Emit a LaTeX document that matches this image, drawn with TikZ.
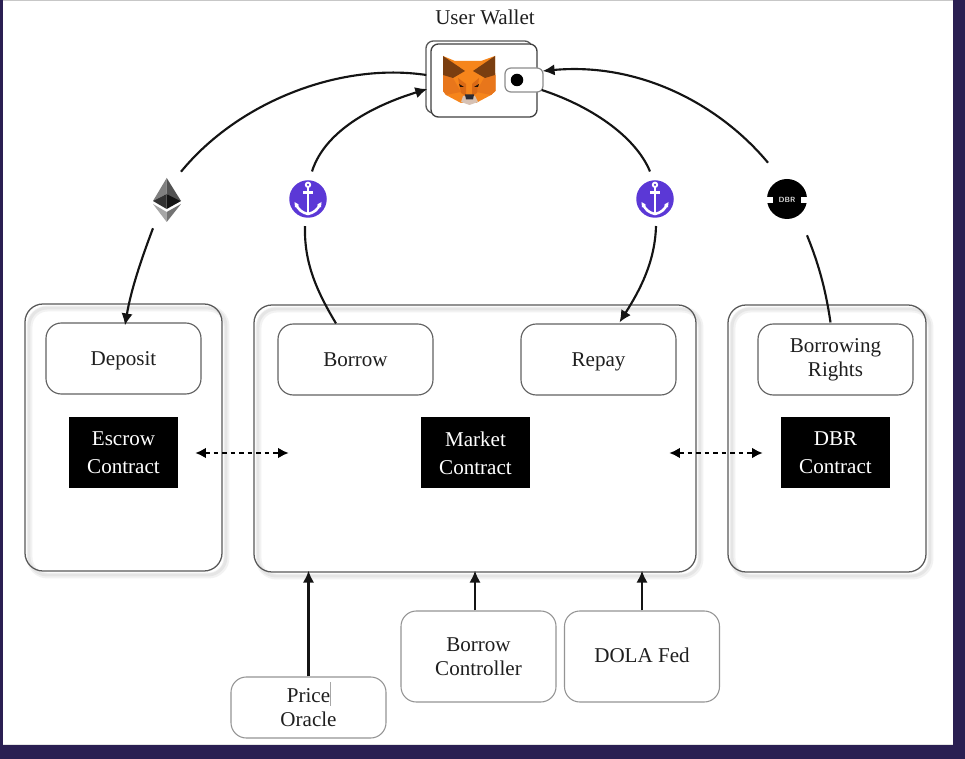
\documentclass[tikz,border=0pt]{standalone}
\usepackage{fontspec}
\setmainfont{Liberation Serif}
\usetikzlibrary{arrows.meta,calc,shadows}
\definecolor{frame}{HTML}{2A1F52}
\definecolor{anchorviolet}{HTML}{5B38D6}
\definecolor{foxface}{HTML}{F6851B}
\definecolor{foxcheek}{HTML}{E8761B}
\definecolor{foxfacet}{HTML}{DA6A16}
\definecolor{foxear}{HTML}{7A3E10}
\definecolor{foxmuzzle}{HTML}{D7C1B3}
\definecolor{foxnose}{HTML}{2B2B33}
\newcommand{\lowered}[2][1.4pt]{\raisebox{-#1}{#2}}
\tikzset{
  sz/.style 2 args={minimum width=#1*0.75pt, minimum height=#2*0.75pt, inner sep=0pt},
  txt/.style={font=\fontsize{15.8pt}{18pt}\selectfont, text=black!88, align=center},
  outer/.style={draw=black!65, line width=0.95pt, rounded corners=13.5pt,
    general shadow={shadow xshift=3.4pt, shadow yshift=-3.4pt, draw=black!5, line width=4.4pt, fill=none},
    general shadow={shadow xshift=3pt, shadow yshift=-3pt, draw=black!10, line width=2.2pt, fill=none}},
  inner box/.style={draw=black!62, line width=0.85pt, rounded corners=11.5pt, txt},
  low box/.style={draw=black!42, line width=0.8pt, rounded corners=11.5pt, txt},
  blackbox/.style={fill=black, txt, text=white, font=\fontsize{15.8pt}{21pt}\selectfont},
  conn/.style={line width=1.6pt, black!92},
  tipped/.style={conn, -{Latex[length=9pt,width=8.5pt]}},
  dbl/.style={line width=1.4pt, black, dash pattern=on 3.4pt off 3pt,
     {Latex[length=8pt,width=8pt]}-{Latex[length=8pt,width=8pt]}},
  anchoricon/.pic={
    \draw[white,line width=1.4pt] (0,-14.2) circle (2.2);
    \draw[white,line width=2pt] (0,-11.5) -- (0,15);
    \draw[white,line width=1.6pt] (-5,-6.5) -- (5,-6.5);
    \draw[white,line width=1.9pt] (-12,5) .. controls (-10,11) and (-5,14) .. (0,15)
        .. controls (5,14) and (10,11) .. (12,5);
    \fill[white] (-13.5,3) -- (-9,6) -- (-13,8.5) -- cycle;
    \fill[white] (13.5,3) -- (9,6) -- (13,8.5) -- cycle;
  }
}
\begin{document}
\begin{tikzpicture}[x=0.75pt,y=-0.75pt]
\useasboundingbox (0,0) rectangle (965,759);
% surroundings
\fill[frame] (0,0) rectangle (965,759);
\fill[white] (3,0) rectangle (953,745);
\fill[black!22] (3,0) rectangle (953,1.5);
\fill[black!10] (3,743.5) rectangle (953,745);

% title
\node[txt] (title) at (485,17) {User Wallet};

% containers
\node[outer, sz={197}{267}] (escrow) at (123.5,437.5) {};
\node[outer, sz={442}{267}] (market) at (475,438.5) {};
\node[outer, sz={198}{267}] (dbr) at (827,438.5) {};

% action boxes
\node[inner box, sz={155}{71}] (deposit) at (123.5,358.5) {\strut\lowered{Deposit}};
\node[inner box, sz={155}{71}] (borrow) at (355.5,359.5) {\strut\lowered{Borrow}};
\node[inner box, sz={155}{71}] (repay) at (598.5,359.5) {\strut\lowered{Repay}};
\node[inner box, sz={155}{71}] (rights) at (835.5,359.5) {\lowered{Borrowing}\\\lowered{Rights}};

% contract labels
\node[blackbox, sz={109}{71}] (escrowC) at (123.5,453) {\lowered[0.7pt]{Escrow}\\\lowered[0.7pt]{Contract}};
\node[blackbox, sz={109}{71}] (marketC) at (475.5,453) {\lowered[0.7pt]{Market}\\\lowered[0.7pt]{Contract}};
\node[blackbox, sz={109}{71}] (dbrC) at (835.5,453) {\lowered[0.7pt]{DBR}\\\lowered[0.7pt]{Contract}};

% lower boxes
\node[low box, sz={155}{61}] (oracle) at (308.5,707.5) {Price\\Oracle};
\node[low box, sz={155}{91}] (controller) at (478.5,656.5) {Borrow\\Controller};
\node[low box, sz={155}{91}] (fed) at (642,656.5) {\strut\lowered[0.8pt]{DOLA Fed}};
\draw[black!35,line width=0.5pt] (330.5,682) -- (330.5,706);

% wallet
\node[draw=black!65,line width=1pt,fill=white,rounded corners=5.5pt,sz={106}{72}] (walletback) at (479,77) {};
\node[draw=black!75,line width=1pt,fill=white,rounded corners=5.5pt,sz={106}{73}] (wallet) at (484,80.5) {};
\node[draw=black!45,line width=0.9pt,fill=white,rounded corners=4.5pt,sz={38}{24}] (clasp) at (524,80) {};
\node[fill=black,circle,sz={12.5}{12.5}] (dot) at (517,80) {};

% fox
\fill[foxface] (443,56) -- (455,61) -- (481,61) -- (495,56) -- (495.5,91) -- (491,95) -- (476,103) -- (461,103) -- (446,95) -- (443,91) -- cycle;
\fill[foxcheek] (443,75) -- (453,78) -- (461,92) -- (446,95) -- (443,91) -- cycle;
\fill[foxcheek] (495.5,75) -- (484,78) -- (476,92) -- (491,95) -- (495.5,91) -- cycle;
\fill[foxfacet] (458,78) -- (466,84) -- (466,96) -- (461,93) -- cycle;
\fill[foxfacet] (479,78) -- (472,84) -- (472,96) -- (477,93) -- cycle;
\fill[foxear] (443,56) -- (465,71) -- (453,78) -- (443,75) -- cycle;
\fill[foxear] (495,56) -- (473,71) -- (485,78) -- (495,75) -- cycle;
\fill[black!70!foxear] (459,84) -- (464,87) -- (460,87) -- cycle;
\fill[black!70!foxear] (479,84) -- (474,87) -- (478,87) -- cycle;
\fill[foxmuzzle] (463,96) -- (475,96) -- (478,102) -- (469.5,105) -- (461,102) -- cycle;
\fill[foxnose] (465,94.5) -- (474,94.5) -- (473,99.5) -- (466,99.5) -- cycle;

% icons
\node[sz={30}{46}] (eth) at (167,200) {};
\fill[black!50] (166.7,178) -- (153,201) -- (166.7,194) -- cycle;
\fill[black!68] (166.7,178) -- (181,201) -- (166.7,194) -- cycle;
\fill[black!80] (153,201) -- (166.7,194) -- (166.7,209) -- cycle;
\fill[black!92] (181,201) -- (166.7,194) -- (166.7,209) -- cycle;
\fill[black!35] (153,204) -- (166.7,212) -- (166.7,222) -- cycle;
\fill[black!55] (181,204) -- (166.7,212) -- (166.7,222) -- cycle;

\node[circle,fill=anchorviolet,sz={37.5}{37.5}] (anchorA) at (308,199) {};
\pic at (308,199) {anchoricon};
\node[circle,fill=anchorviolet,sz={37.5}{37.5}] (anchorB) at (655,199) {};
\pic at (655,199) {anchoricon};
\node[circle,fill=black,sz={40}{40}] (dbrcoin) at (787,199) {};
\fill[white] (766,197) rectangle (773,203);
\fill[white] (801,197) rectangle (808,203);
\node[text=white!88!black,font=\sffamily\bfseries\fontsize{5.6pt}{6pt}\selectfont,inner sep=0pt] (dbrtext) at (787,200) {DBR};

% connectors
\draw[conn] ($(eth.north)+(14,-5)$) .. controls (238,102) and (340,62) .. ($(walletback.west)+(1,-2)$);
\draw[tipped] ($(eth.south)+(-14,5)$) .. controls (141,260) and (131,290) .. ($(deposit.north)+(1.5,3)$);
\draw[conn] ($(borrow.north)+(-19.5,0)$) .. controls (316,290) and (304,262) .. ($(anchorA.south)+(-3,8)$);
\draw[tipped] ($(anchorA.north)+(4,-8.5)$) .. controls (325,130) and (375,105) .. ($(walletback.west)+(2,12)$);
\draw[conn] ($(wallet.east)+(4,9.5)$) .. controls (588,105) and (635,135) .. ($(anchorB.north)+(-5,-8.5)$);
\draw[tipped] ($(anchorB.south)+(1,8)$) .. controls (655,262) and (640,290) .. ($(repay.north)+(21,-1)$);
\draw[conn] ($(rights.north)+(-5,-1)$) .. controls (825,285) and (817,260) .. ($(dbrcoin.south)+(20,16)$);
\draw[tipped] ($(dbrcoin.north)+(-19,-16)$) .. controls (720,105) and (640,62) .. ($(clasp.east)+(-1,-9)$);

\draw[dbl, shorten <=12.75pt, shorten >=99pt] (escrowC.east) -- (marketC.west);
\draw[dbl, shorten <=104.25pt, shorten >=13.5pt] (marketC.east) -- (dbrC.west);

\draw[tipped, shorten >=-1.5pt] (oracle.north) -- (oracle.north |- market.south);
\draw[tipped, shorten >=-1.5pt] (market.south |- controller.north) -- (market.south);
\draw[tipped, shorten >=-1.5pt] (fed.north) -- (fed.north |- market.south);
\end{tikzpicture}
\end{document}
